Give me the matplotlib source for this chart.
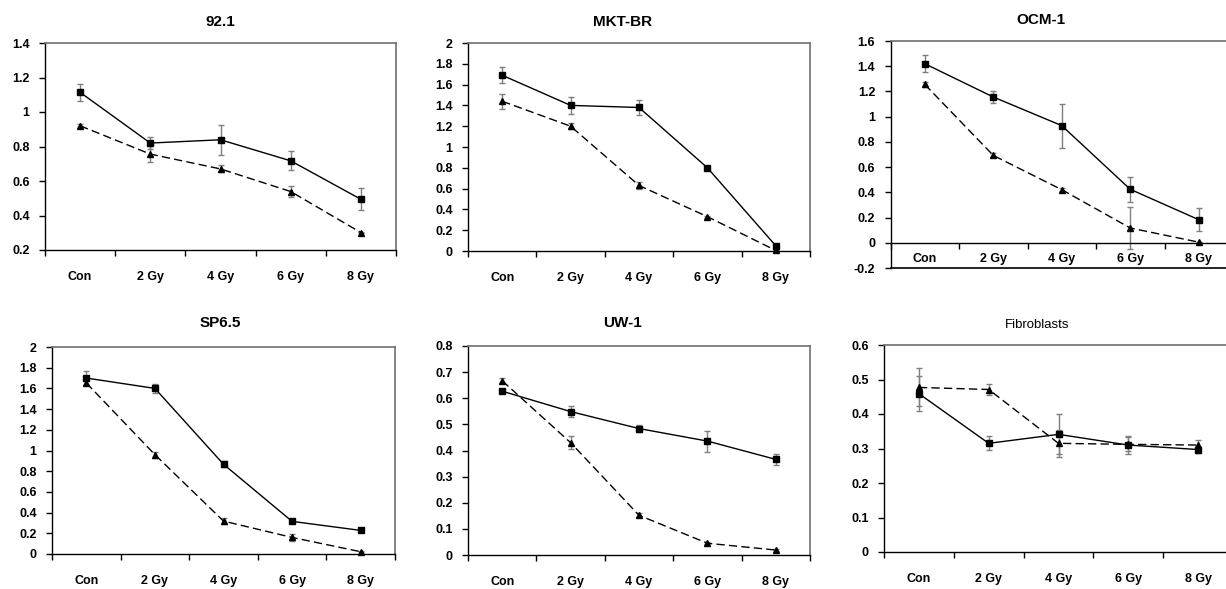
import matplotlib
matplotlib.use("Agg")
import matplotlib.pyplot as plt
from matplotlib.ticker import FixedLocator, FuncFormatter

plt.rcParams['font.family'] = ['Liberation Sans', 'DejaVu Sans']

categories = ["Con", "2 Gy", "4 Gy", "6 Gy", "8 Gy"]
titles = ["92.1", "MKT-BR", "OCM-1", "SP6.5", "UW-1", "Fibroblasts"]

# solid line, square markers
sq_921 = [1.114, 0.82, 0.839, 0.717, 0.494]
sq_921_err = [0.05, 0.035, 0.087, 0.055, 0.065]
sq_mkt = [1.69, 1.40, 1.38, 0.80, 0.05]
sq_mkt_err = [0.075, 0.085, 0.075, 0.02, 0.01]
sq_ocm = [1.42, 1.156, 0.929, 0.424, 0.183]
sq_ocm_err = [0.068, 0.048, 0.175, 0.10, 0.09]
sq_sp = [1.70, 1.60, 0.867, 0.315, 0.228]
sq_sp_err = [0.065, 0.04, 0.03, 0.015, 0.01]
sq_uw = [0.627, 0.549, 0.484, 0.436, 0.366]
sq_uw_err = [0.005, 0.02, 0.015, 0.04, 0.02]
sq_fib = [0.459, 0.315, 0.341, 0.31, 0.297]
sq_fib_err = [0.05, 0.02, 0.058, 0.025, 0.01]

# dashed line, triangle markers
tri_921 = [0.92, 0.756, 0.67, 0.539, 0.301]
tri_921_err = [0.008, 0.045, 0.02, 0.033, 0.005]
tri_mkt = [1.44, 1.20, 0.63, 0.33, 0.005]
tri_mkt_err = [0.07, 0.03, 0.03, 0.01, 0.005]
tri_ocm = [1.256, 0.693, 0.421, 0.117, 0.005]
tri_ocm_err = [0.02, 0.015, 0.01, 0.165, 0.005]
tri_sp = [1.653, 0.96, 0.318, 0.16, 0.022]
tri_sp_err = [0.02, 0.03, 0.03, 0.03, 0.005]
tri_uw = [0.667, 0.43, 0.152, 0.045, 0.019]
tri_uw_err = [0.01, 0.025, 0.008, 0.004, 0.003]
tri_fib = [0.477, 0.471, 0.315, 0.312, 0.31]
tri_fib_err = [0.055, 0.015, 0.04, 0.02, 0.015]

squares = [sq_921, sq_mkt, sq_ocm, sq_sp, sq_uw, sq_fib]
squares_err = [sq_921_err, sq_mkt_err, sq_ocm_err, sq_sp_err, sq_uw_err, sq_fib_err]
triangles = [tri_921, tri_mkt, tri_ocm, tri_sp, tri_uw, tri_fib]
triangles_err = [tri_921_err, tri_mkt_err, tri_ocm_err, tri_sp_err, tri_uw_err, tri_fib_err]

ylims = [(0.2, 1.4), (0, 2), (-0.2, 1.6), (0, 2), (0, 0.8), (0, 0.6)]
ysteps = [0.2, 0.2, 0.2, 0.2, 0.1, 0.1]

W, H = 1226, 589
# pixel boxes: left, right, top, bottom
boxes = [(45, 396, 43, 250), (468, 810, 43, 251), (890.5, 1233, 41, 268),
         (52, 395, 347, 554), (468, 810, 346, 555), (884, 1233, 345, 552)]
title_pos = [(220, 22), (623, 22), (1041, 20), (220, 323), (622, 323), (1037, 325)]

fig = plt.figure(figsize=(W / 100, H / 100), dpi=100)

for i in range(6):
    l, r, t, b = boxes[i]
    ax = fig.add_axes([l / W, 1 - b / H, (r - l) / W, (b - t) / H])
    x = [k + 0.5 for k in range(len(categories))]
    ax.errorbar(x, triangles[i], yerr=triangles_err[i], fmt='none', ecolor='#7f7f7f',
                elinewidth=1, capsize=2.2, capthick=1, zorder=2)
    ax.errorbar(x, squares[i], yerr=squares_err[i], fmt='none', ecolor='#7f7f7f',
                elinewidth=1, capsize=2.2, capthick=1, zorder=2)
    ax.plot(x, triangles[i], color='black', lw=1, ls=(0, (6, 3)), marker='^',
            ms=4.0, mfc='black', mec='black', zorder=3, clip_on=False)
    ax.plot(x, squares[i], color='black', lw=1, ls='-', marker='s',
            ms=3.7, mfc='black', mec='black', zorder=4, clip_on=False)

    y0, y1 = ylims[i]
    ax.set_xlim(0, 5)
    ax.set_ylim(y0, y1)
    step = ysteps[i]
    n = int(round((y1 - y0) / step))
    yt = [round(y0 + k * step, 2) for k in range(n + 1)]
    ax.yaxis.set_major_locator(FixedLocator(yt))
    ax.yaxis.set_major_formatter(FuncFormatter(lambda v, p: f"{v:g}"))
    ax.xaxis.set_major_locator(FixedLocator([0, 1, 2, 3, 4, 5]))
    ax.xaxis.set_minor_locator(FixedLocator(x))
    ax.xaxis.set_major_formatter(FuncFormatter(lambda v, p: ""))
    ax.xaxis.set_minor_formatter(FuncFormatter(lambda v, p: categories[int(v)] if 0 <= int(v) < 5 else ""))
    ax.tick_params(axis='x', which='major', direction='out', length=4, width=1, color='black')
    ax.tick_params(axis='y', which='major', direction='out', length=4, width=1, color='black',
                   labelsize=9, pad=7)
    for lab in ax.get_yticklabels():
        lab.set_fontweight('bold')

    for side in ('top', 'right'):
        ax.spines[side].set_color('#6f6f6f')
        ax.spines[side].set_linewidth(1.2)
    for side in ('left', 'bottom'):
        ax.spines[side].set_color('black')
        ax.spines[side].set_linewidth(1)
    if i in (2, 5):
        ax.spines['right'].set_visible(False)

    if i == 2:
        ax.spines['bottom'].set_position(('data', 0))
        ax.axhline(-0.2, color='black', lw=1.2, clip_on=False, zorder=1)
        ax.tick_params(axis='x', which='minor', length=0, labelsize=9, pad=7)
    else:
        ax.tick_params(axis='x', which='minor', length=0, labelsize=9, pad=15)
    for lab in ax.get_xticklabels(minor=True):
        lab.set_fontweight('bold')

    tx, ty = title_pos[i]
    if i == 5:
        fig.text(tx / W, 1 - ty / H, titles[i], ha='center', va='center', fontsize=9.5)
    else:
        fig.text(tx / W, 1 - ty / H, titles[i], ha='center', va='center', fontsize=11,
                 fontweight='bold')

fig.savefig("out.png", dpi=100)
